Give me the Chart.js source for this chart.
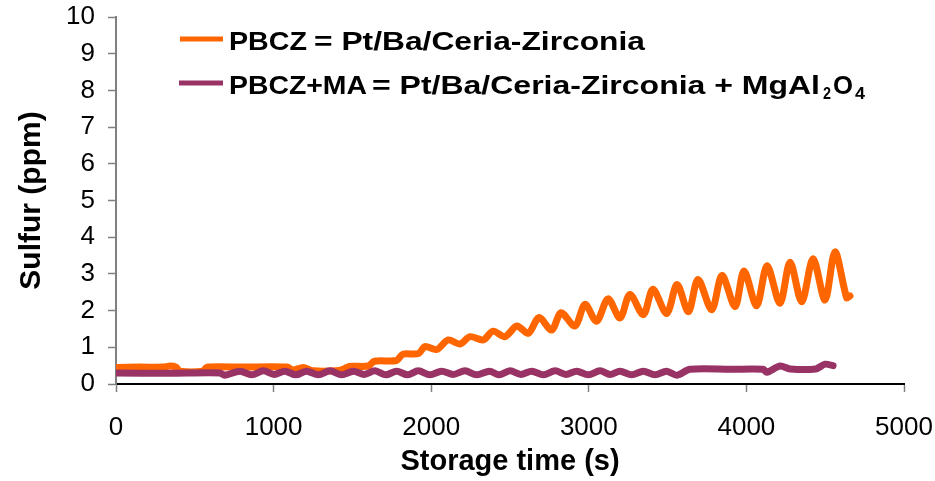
<!DOCTYPE html>
<html>
<head>
<meta charset="utf-8">
<script src="https://cdn.jsdelivr.net/npm/chart.js@4"></script>
<style>
  body { margin: 0; background: #fff; }
</style>
</head>
<body>
<canvas id="chart" width="935" height="481"></canvas>
<script>
// Data
const orangeTime = [0, 150, 300, 343, 380, 406, 552, 577, 800, 1085, 1123, 1187, 1250, 1400, 1440, 1480, 1600, 1640, 1780, 1820, 1920, 1960, 2035, 2108, 2183, 2246, 2330, 2392, 2468, 2544, 2616, 2684, 2764, 2824, 2912, 2976, 3049, 3122, 3198, 3261, 3346, 3407, 3494, 3560, 3632, 3693, 3780, 3845, 3928, 3985, 4065, 4131, 4213, 4277, 4351, 4423, 4499, 4562, 4636, 4657];
const orangeSulfur = [0.45, 0.46, 0.46, 0.49, 0.46, 0.35, 0.35, 0.46, 0.46, 0.46, 0.38, 0.45, 0.36, 0.36, 0.40, 0.48, 0.49, 0.62, 0.64, 0.81, 0.83, 1.02, 0.94, 1.20, 1.09, 1.29, 1.20, 1.44, 1.29, 1.58, 1.38, 1.81, 1.47, 1.94, 1.58, 2.17, 1.71, 2.32, 1.80, 2.44, 1.89, 2.58, 1.92, 2.71, 1.97, 2.85, 2.02, 2.96, 2.11, 3.08, 2.13, 3.22, 2.20, 3.32, 2.24, 3.41, 2.29, 3.60, 2.35, 2.40];

const purpleTime = [0, 330, 660, 690, 787, 861, 935, 1003, 1072, 1141, 1210, 1284, 1358, 1432, 1506, 1575, 1643, 1712, 1781, 1850, 1918, 1992, 2066, 2140, 2214, 2288, 2370, 2430, 2500, 2569, 2638, 2712, 2786, 2855, 2923, 2997, 3071, 3135, 3198, 3272, 3346, 3420, 3494, 3560, 3642, 3900, 4106, 4131, 4213, 4277, 4440, 4499, 4550];
const purpleSulfur = [0.30, 0.29, 0.30, 0.24, 0.35, 0.25, 0.36, 0.26, 0.35, 0.25, 0.35, 0.25, 0.36, 0.25, 0.35, 0.26, 0.36, 0.25, 0.35, 0.25, 0.36, 0.25, 0.35, 0.26, 0.36, 0.25, 0.35, 0.25, 0.36, 0.26, 0.35, 0.25, 0.36, 0.26, 0.35, 0.25, 0.36, 0.26, 0.35, 0.25, 0.35, 0.25, 0.35, 0.24, 0.40, 0.40, 0.40, 0.32, 0.49, 0.41, 0.41, 0.54, 0.50];

const seriesNames = ["PBCZ", "PBCZ+MA"];
const seriesColors = ["#FF6600", "#993366"];
const legendDesc = ["= Pt/Ba/Ceria-Zirconia", "= Pt/Ba/Ceria-Zirconia + MgAl"];

const xTitle = "Storage time (s)";
const yTitle = "Sulfur (ppm)";

function toPoints(xs, ys) {
    return xs.map((x, i) => ({ x: x, y: ys[i] }));
}

Chart.defaults.font.family = "'Liberation Sans', Arial, sans-serif";
Chart.defaults.color = "#000";

// draw text squeezed/stretched between x0 and x1
function fitText(ctx, text, x0, x1, y) {
    const w = ctx.measureText(text).width;
    ctx.save();
    ctx.translate(x0, y);
    ctx.scale((x1 - x0) / w, 1);
    ctx.fillText(text, 0, 0);
    ctx.restore();
}

const legendPlugin = {
    id: "boxLegend",
    afterDraw(chart) {
        const ctx = chart.ctx;
        ctx.save();
        ctx.lineCap = "butt";
        ctx.lineWidth = 5;
        ctx.strokeStyle = seriesColors[0];
        ctx.beginPath(); ctx.moveTo(180, 39); ctx.lineTo(223, 39); ctx.stroke();
        ctx.strokeStyle = seriesColors[1];
        ctx.beginPath(); ctx.moveTo(179, 83); ctx.lineTo(223, 83); ctx.stroke();

        ctx.fillStyle = "#000";
        ctx.textBaseline = "alphabetic";
        ctx.font = "bold 26px 'Liberation Sans', Arial, sans-serif";
        fitText(ctx, seriesNames[0], 229, 307, 50);
        fitText(ctx, legendDesc[0], 314, 645, 50);
        fitText(ctx, seriesNames[1], 229, 367, 94);
        fitText(ctx, legendDesc[1], 372, 820, 94);
        fitText(ctx, "O", 833, 853, 94);
        ctx.font = "bold 16px 'Liberation Sans', Arial, sans-serif";
        fitText(ctx, "2", 823, 831, 99);
        fitText(ctx, "4", 855, 865, 99);
        ctx.restore();
    }
};

const ctx = document.getElementById("chart").getContext("2d");
const myChart = new Chart(ctx, {
    type: "line",
    data: {
        datasets: [{
            label: seriesNames[0],
            data: toPoints(orangeTime, orangeSulfur),
            borderColor: seriesColors[0],
            order: 2
        }, {
            label: seriesNames[1],
            data: toPoints(purpleTime, purpleSulfur),
            borderColor: seriesColors[1],
            order: 1
        }]
    },
    options: {
        responsive: false,
        animation: false,
        layout: { padding: { top: 17, right: 31, left: 0, bottom: 0 } },
        elements: {
            point: { radius: 0 },
            line: { borderWidth: 7, tension: 0.3, borderJoinStyle: "round", borderCapStyle: "round", fill: false }
        },
        plugins: {
            legend: { display: false },
            tooltip: { enabled: false }
        },
        scales: {
            x: {
                type: "linear",
                min: 0,
                max: 5000,
                ticks: {
                    stepSize: 1000, font: { size: 26 }, padding: 20, maxRotation: 0, autoSkip: false,
                    callback: v => String(v)
                },
                grid: { drawOnChartArea: false, tickLength: 8, tickColor: "#808080", tickWidth: 1.5 },
                border: { color: "#000", width: 2 },
                title: { display: true, text: xTitle, font: { size: 29, weight: "bold" }, padding: { top: 0, bottom: 2 } },
                afterFit: function (s) { s.height = 97; s.paddingLeft = 0; s.paddingRight = 0; }
            },
            y: {
                min: 0,
                max: 10,
                ticks: { stepSize: 1, font: { size: 26 }, padding: 13, autoSkip: false },
                grid: { drawOnChartArea: false, tickLength: 8, tickColor: "#808080", tickWidth: 1.5 },
                border: { color: "#808080", width: 2 },
                title: { display: true, text: yTitle, font: { size: 30, weight: "bold" }, padding: { top: 14, bottom: 0 } },
                afterFit: function (s) { s.width = 116; s.paddingTop = 0; s.paddingBottom = 0; }
            }
        }
    },
    plugins: [legendPlugin]
});
</script>
</body>
</html>
